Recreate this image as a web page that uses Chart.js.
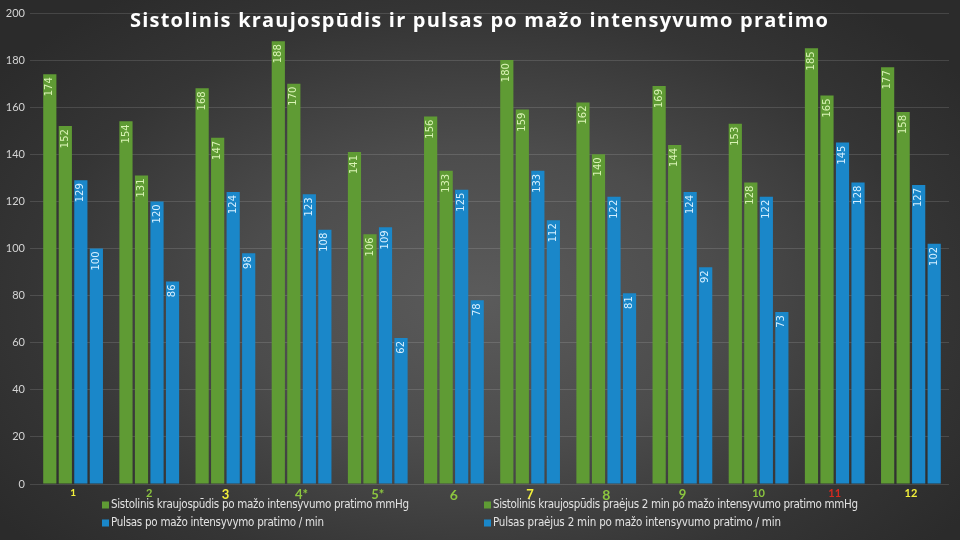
<!DOCTYPE html>
<html>
<head>
<meta charset="utf-8">
<script src="https://cdn.jsdelivr.net/npm/chart.js@4/dist/chart.umd.min.js"></script>
<style>
  html, body { margin: 0; padding: 0; width: 960px; height: 540px; overflow: hidden; }
  body { background: radial-gradient(ellipse 62% 70% at 50% 55%, #5b5b5b 0%, #4c4c4c 40%, #353535 75%, #2b2b2b 100%); }
  #wrap { position: absolute; left: 0; top: 0; width: 960px; height: 540px; }
</style>
</head>
<body>
<div id="wrap"><canvas id="c" width="960" height="540"></canvas></div>
<script>
const chartTitle = 'Sistolinis kraujospūdis ir pulsas po mažo intensyvumo pratimo';
const categories = ['1', '2', '3', '4*', '5*', '6', '7', '8', '9', '10', '11', '12'];
const seriesNames = [
  'Sistolinis kraujospūdis po mažo intensyvumo pratimo mmHg',
  'Sistolinis kraujospūdis praėjus 2 min po mažo intensyvumo pratimo mmHg',
  'Pulsas po mažo intensyvymo pratimo / min',
  'Pulsas praėjus 2 min po mažo intensyvumo pratimo / min'
];
const systolicAfter   = [174, 154, 168, 188, 141, 156, 180, 162, 169, 153, 185, 177];
const systolicAfter2  = [152, 131, 147, 170, 106, 133, 159, 140, 144, 128, 165, 158];
const pulseAfter      = [129, 120, 124, 123, 109, 125, 133, 122, 124, 122, 145, 127];
const pulseAfter2     = [100,  86,  98, 108,  62,  78, 112,  81,  92,  73, 128, 102];
const yMin = 0, yMax = 200, yStep = 20;

// styles (kept separate from data)
const GREEN = '#5f9b34', BLUE = '#1a87c9';
const catColors = ['#f3f03a','#8cc63f','#f3f03a','#8cc63f','#8cc63f','#8cc63f','#f3f03a','#8cc63f','#8cc63f','#8cc63f','#d42a20','#f3f03a'];
const catSizes  = [10, 11, 13, 13, 13, 14, 13, 14, 13, 11, 11, 11];

const titlePlugin = {
  id: 'titleText',
  afterDraw(chart) {
    const ctx = chart.ctx;
    ctx.save();
    ctx.font = 'bold 20px "Open Sans"';
    ctx.letterSpacing = '0px';
    const w = ctx.measureText(chartTitle).width;
    const target = 698;
    const ls = (target - w) / (chartTitle.length - 1);
    ctx.letterSpacing = ls + 'px';
    ctx.fillStyle = '#ffffff';
    ctx.textBaseline = 'middle';
    ctx.textAlign = 'left';
    ctx.fillText(chartTitle, 130, 21);
    ctx.restore();
  }
};

const labelPlugin = {
  id: 'barLabels',
  afterDatasetsDraw(chart) {
    const ctx = chart.ctx;
    ctx.save();
    ctx.font = '10px "DejaVu Sans"';
    ctx.textBaseline = 'middle';
    ctx.textAlign = 'right';
    chart.data.datasets.forEach((ds, di) => {
      const meta = chart.getDatasetMeta(di);
      meta.data.forEach((bar, i) => {
        ctx.save();
        ctx.translate(bar.x, bar.y + 3);
        ctx.rotate(-Math.PI / 2);
        ctx.fillStyle = di < 2 ? '#d9f3b5' : '#d6efff';
        ctx.fillText(String(ds.data[i]), 0, 0);
        ctx.restore();
      });
    });
    ctx.restore();
  }
};

const legendPlugin = {
  id: 'customLegend',
  afterDraw(chart) {
    const ctx = chart.ctx;
    const items = [
      { x: 102, y: 505, color: GREEN, text: seriesNames[0], w: 298 },
      { x: 484, y: 505, color: GREEN, text: seriesNames[1], w: 365 },
      { x: 102, y: 523, color: BLUE,  text: seriesNames[2], w: 213 },
      { x: 484, y: 523, color: BLUE,  text: seriesNames[3], w: 288 }
    ];
    ctx.save();
    items.forEach(it => {
      ctx.fillStyle = it.color;
      ctx.fillRect(it.x, it.y - 3.5, 7, 7);
      ctx.font = '11.5px "DejaVu Sans Condensed", "DejaVu Sans"';
      ctx.letterSpacing = '0px';
      const w = ctx.measureText(it.text).width;
      ctx.letterSpacing = ((it.w - w) / (it.text.length - 1)) + 'px';
      ctx.fillStyle = '#e2e2e2';
      ctx.textBaseline = 'middle';
      ctx.textAlign = 'left';
      ctx.fillText(it.text, it.x + 9, it.y);
    });
    ctx.restore();
  }
};

new Chart(document.getElementById('c'), {
  type: 'bar',
  data: {
    labels: categories,
    datasets: [
      { label: seriesNames[0], data: systolicAfter,  backgroundColor: GREEN },
      { label: seriesNames[1], data: systolicAfter2, backgroundColor: GREEN },
      { label: seriesNames[2], data: pulseAfter,     backgroundColor: BLUE },
      { label: seriesNames[3], data: pulseAfter2,    backgroundColor: BLUE }
    ]
  },
  options: {
    responsive: false,
    animation: false,
    layout: { padding: { top: 13, right: 11, left: 0, bottom: 0 } },
    datasets: { bar: { categoryPercentage: 0.815, barPercentage: 0.85 } },
    plugins: { legend: { display: false }, title: { display: false }, tooltip: { enabled: false } },
    scales: {
      x: {
        grid: { display: false },
        border: { display: false },
        afterFit(s) { s.height = 56; },
        ticks: {
          padding: -5,
          color: (c) => catColors[c.index],
          font: (c) => ({ family: 'Lato', weight: 'bold', size: catSizes[c.index] })
        }
      },
      y: {
        min: yMin, max: yMax,
        afterFit(s) { s.width = 35; },
        border: { display: false },
        grid: { color: 'rgba(255,255,255,0.13)', lineWidth: 1, drawTicks: true, tickLength: 5, tickColor: 'rgba(255,255,255,0.13)' },
        ticks: {
          stepSize: yStep,
          padding: 5,
          color: '#d4d4d4',
          font: { family: 'Lato', size: 11 }
        }
      }
    }
  },
  plugins: [labelPlugin, titlePlugin, legendPlugin]
});
</script>
</body>
</html>
